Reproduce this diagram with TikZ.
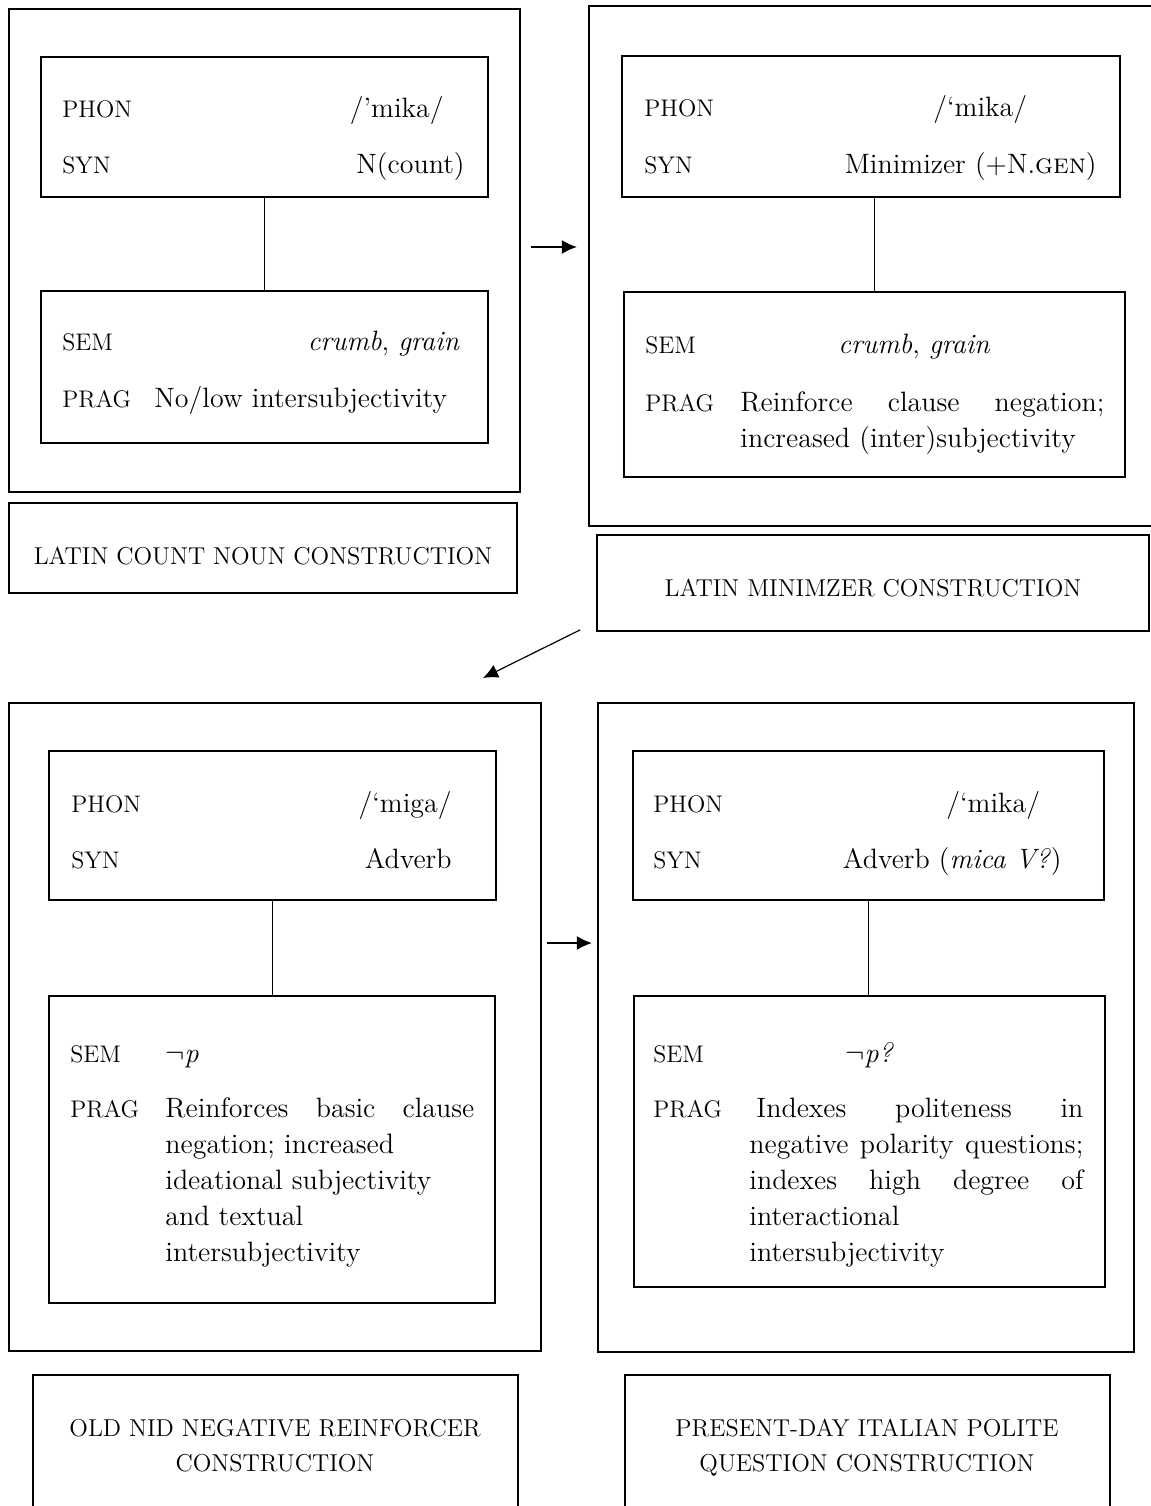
\documentclass[tikz,border=0pt]{standalone}
\usetikzlibrary{arrows.meta,fit}

% a line of a paragraph stretched to a given width
\newcommand{\fullline}[2]{\makebox[#1][s]{#2}}

\tikzset{
  outerbox/.style={draw, line width=1.2pt, inner sep=0pt},
  innerbox/.style={draw, line width=0.8pt, inner sep=0pt},
  namebox/.style={draw, line width=0.9pt, inner sep=0pt},
  feat/.style={anchor=base west, inner sep=0pt, font=\fontsize{12}{14}\selectfont},
  val/.style={inner sep=0pt, font=\fontsize{14}{18}\selectfont},
  prag/.style={val, anchor=north west, align=left},
  constr/.style={inner sep=0pt, align=center, font=\fontsize{12.2}{17.5}\selectfont},
  link/.style={line width=0.5pt},
  change/.style={line width=0.6pt, -{Latex[length=7.5pt,width=7pt]}}
}

\begin{document}
\begin{tikzpicture}[x=0.5pt, y=-0.5pt]
  \useasboundingbox (0,0) rectangle (1151,1506);

  % Latin count noun
  \node[outerbox, fit={(9,9) (520,492)}] (outA) {};
  \node[innerbox, fit={(41,57) (488,197)}] (formA) {};
  \node[innerbox, fit={(41,291) (488,443)}] (meanA) {};
  \draw[link] (formA.south) -- (meanA.north);
  \node[feat] (phonA) at (62,117) {PHON};
  \node[val, anchor=base east] (phonvA) at (444,117) {/’mika/};
  \node[feat] (synA) at (62,173) {SYN};
  \node[val, anchor=base east] (synvA) at (465,173) {N(count)};
  \node[feat] (semA) at (62,350) {SEM};
  \node[val, anchor=base east] (semvA) at (460,350) {\textit{crumb}, \textit{grain}};
  \node[feat] (pragA) at (62,407) {PRAG};
  \node[val, anchor=base west] (pragvA) at (154,407) {No/low intersubjectivity};
  \node[namebox, fit={(9,503) (517,593)}] (boxA) {};
  \node[constr, anchor=base] (nameA) at (263,564) {LATIN COUNT NOUN CONSTRUCTION};

  % Latin minimizer
  \node[outerbox, fit={(589,6) (1153,526)}] (outB) {};
  \node[innerbox, fit={(622,56) (1120,197)}] (formB) {};
  \node[innerbox, fit={(624,292) (1125,477)}] (meanB) {};
  \draw[link] (meanB.north) -- (meanB.north |- formB.south);
  \node[feat] (phonB) at (644,116) {PHON};
  \node[val, anchor=base west] (phonvB) at (933,116) {/‘mika/};
  \node[feat] (synB) at (644,173) {SYN};
  \node[val, anchor=base east] (synvB) at (1097,173) {Minimizer (+N.\textsc{gen})};
  \node[feat] (semB) at (645,353) {SEM};
  \node[val, anchor=base west] (semvB) at (838,353) {\textit{crumb}, \textit{grain}};
  \node[feat] (pragB) at (645,411) {PRAG};
  \node[prag] (pragvB) at (740,391.6)
    {\fullline{182pt}{Reinforce clause negation;}\\
     increased (inter)subjectivity};
  \node[namebox, fit={(597,535) (1149,631)}] (boxB) {};
  \node[constr, anchor=base] (nameB) at (873,596) {LATIN MINIMZER CONSTRUCTION};

  % Old NID negative reinforcer
  \node[outerbox, fit={(9,703) (541,1351)}] (outC) {};
  \node[innerbox, fit={(49,751) (496,900)}] (formC) {};
  \node[innerbox, fit={(49,996) (495,1303)}] (meanC) {};
  \draw[link] (meanC.north) -- (meanC.north |- formC.south);
  \node[feat] (phonC) at (71,812) {PHON};
  \node[val, anchor=base east] (phonvC) at (452,812) {/‘miga/};
  \node[feat] (synC) at (71,868) {SYN};
  \node[val, anchor=base east] (synvC) at (452,868) {Adverb};
  \node[feat] (semC) at (70,1062) {SEM};
  \node[val, anchor=base west] (semvC) at (165,1062) {$\neg$\textit{p}};
  \node[feat] (pragC) at (70,1117) {PRAG};
  \node[prag] (pragvC) at (165,1097.6)
    {\fullline{154.5pt}{Reinforces basic clause}\\
     negation; increased\\
     ideational subjectivity\\
     and textual\\
     intersubjectivity};
  \node[namebox, fit={(33,1375) (518,1520)}] (boxC) {};
  \node[constr, anchor=north] (nameC) at (275,1418.6)
    {OLD NID NEGATIVE REINFORCER\\ CONSTRUCTION};

  % Present-day Italian polite question
  \node[outerbox, fit={(598,703) (1134,1352)}] (outD) {};
  \node[innerbox, fit={(633,751) (1104,900)}] (formD) {};
  \node[innerbox, fit={(634,996) (1105,1287)}] (meanD) {};
  \draw[link] (formD.south) -- (formD.south |- meanD.north);
  \node[feat] (phonD) at (653,812) {PHON};
  \node[val, anchor=base west] (phonvD) at (946,812) {/‘mika/};
  \node[feat] (synD) at (653,868) {SYN};
  \node[val, anchor=base east] (synvD) at (1062,868) {Adverb (\textit{mica V?})};
  \node[feat] (semD) at (653,1062) {SEM};
  \node[val, anchor=base west] (semvD) at (845,1062) {$\neg$\textit{p?}};
  \node[feat] (pragD) at (653,1117) {PRAG};
  \node[prag] (pragvD) at (749,1097.6)
    {\hspace*{3.5pt}\fullline{163.5pt}{Indexes politeness in}\\
     \fullline{167pt}{negative polarity questions;}\\
     \fullline{167pt}{indexes high degree of}\\
     interactional\\
     intersubjectivity};
  \node[namebox, fit={(625,1375) (1110,1520)}] (boxD) {};
  \node[constr, anchor=north] (nameD) at (867,1418.6)
    {PRESENT-DAY ITALIAN POLITE\\ QUESTION CONSTRUCTION};

  % changes
  \coordinate (arrA) at (531,247);
  \draw[change, shorten >=5.5pt] (arrA) -- (arrA -| outB.west);
  \coordinate (tipC) at (483,678);
  \draw[change] ([xshift=-8pt,yshift=1pt]boxB.south west) -- (tipC);
  \coordinate (arrC) at (547,943);
  \draw[change, shorten >=2.5pt] (arrC) -- (arrC -| outD.west);

\end{tikzpicture}
\end{document}
